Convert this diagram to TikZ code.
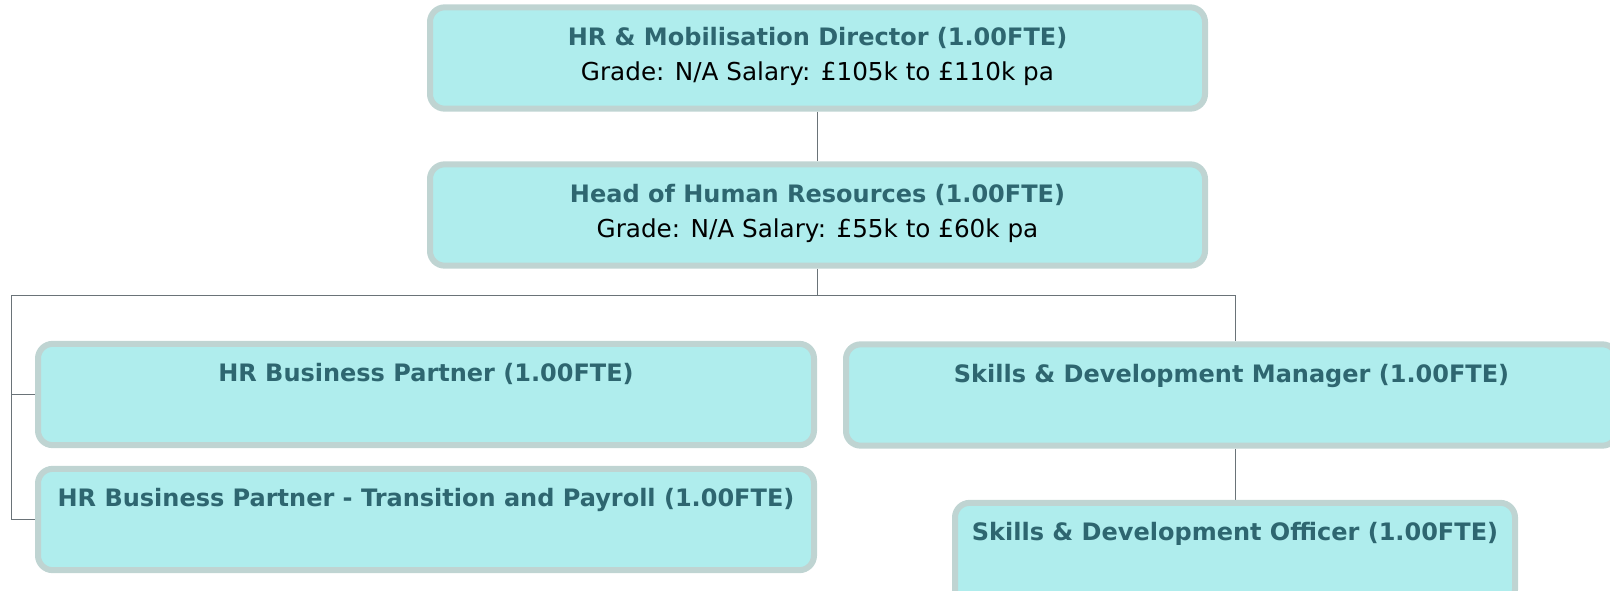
\documentclass[tikz,border=0pt]{standalone}
\usepackage{fontspec}
\setmainfont{DejaVu Sans}
\usetikzlibrary{backgrounds}
\definecolor{boxfill}{HTML}{AFEDED}
\definecolor{boxline}{HTML}{BFD4D2}
\definecolor{titlecol}{HTML}{2E6670}
\definecolor{wirecol}{HTML}{6A7378}
\newcommand{\posttitle}[1]{\textbf{\color{titlecol}#1}}
\newcommand{\postgrade}[1]{{\fontsize{18.5}{26.25}\selectfont #1\rule[-6.5pt]{0pt}{0pt}}}
\newcommand{\postblank}{\rule[-6.8pt]{0pt}{6.8pt}}
\begin{document}
\begin{tikzpicture}[x=0.75pt,y=-0.75pt,
    post/.style={draw=boxline, line width=4.5pt, fill=boxfill, rounded corners=11pt,
        minimum width=#1*0.75pt, minimum height=76pt, inner sep=0pt, align=center,
        font=\fontsize{18}{26.25}\selectfont},
    wire/.style={draw=wirecol, line width=0.75pt}]
\useasboundingbox (0,0) rectangle (1610,590);
% top of the chart
\node[post=775] (dir) at (817.5,58) {\posttitle{HR \& Mobilisation Director (1.00FTE)}\\\postgrade{Grade: N/A Salary: £105k to £110k pa}};
\node[post=775] (head) at (817.5,215) {\posttitle{Head of Human Resources (1.00FTE)}\\\postgrade{Grade: N/A Salary: £55k to £60k pa}};
% second row
\node[post=776] (hrbp) at (426,394.5) {\posttitle{HR Business Partner (1.00FTE)}\\\postblank};
\node[post=776] (hrbpt) at (426,519.5) {\posttitle{HR Business Partner - Transition and Payroll (1.00FTE)}\\\postblank};
\node[post=771] (sdm) at (1231.5,395) {\posttitle{Skills \& Development Manager (1.00FTE)}\\\postblank};
\node[post=560] (sdo) at (1235,553.5) {\posttitle{Skills \& Development Officer (1.00FTE)}\\\postblank};
\coordinate (lbus) at (11,295);
\coordinate (rbus) at (1235,295);
\begin{scope}[on background layer]
    \draw[wire] (dir.south) -- (head.north);
    \draw[wire] (head.south) -- (head.south |- lbus);
    \draw[wire] (lbus) -- (rbus) -- (rbus |- sdm.north);
    \draw[wire] (lbus) |- (hrbpt.west);
    \draw[wire] (lbus |- hrbp.west) -- (hrbp.west);
    \draw[wire] (sdm.south -| sdo.north) -- (sdo.north);
\end{scope}
\end{tikzpicture}
\end{document}
